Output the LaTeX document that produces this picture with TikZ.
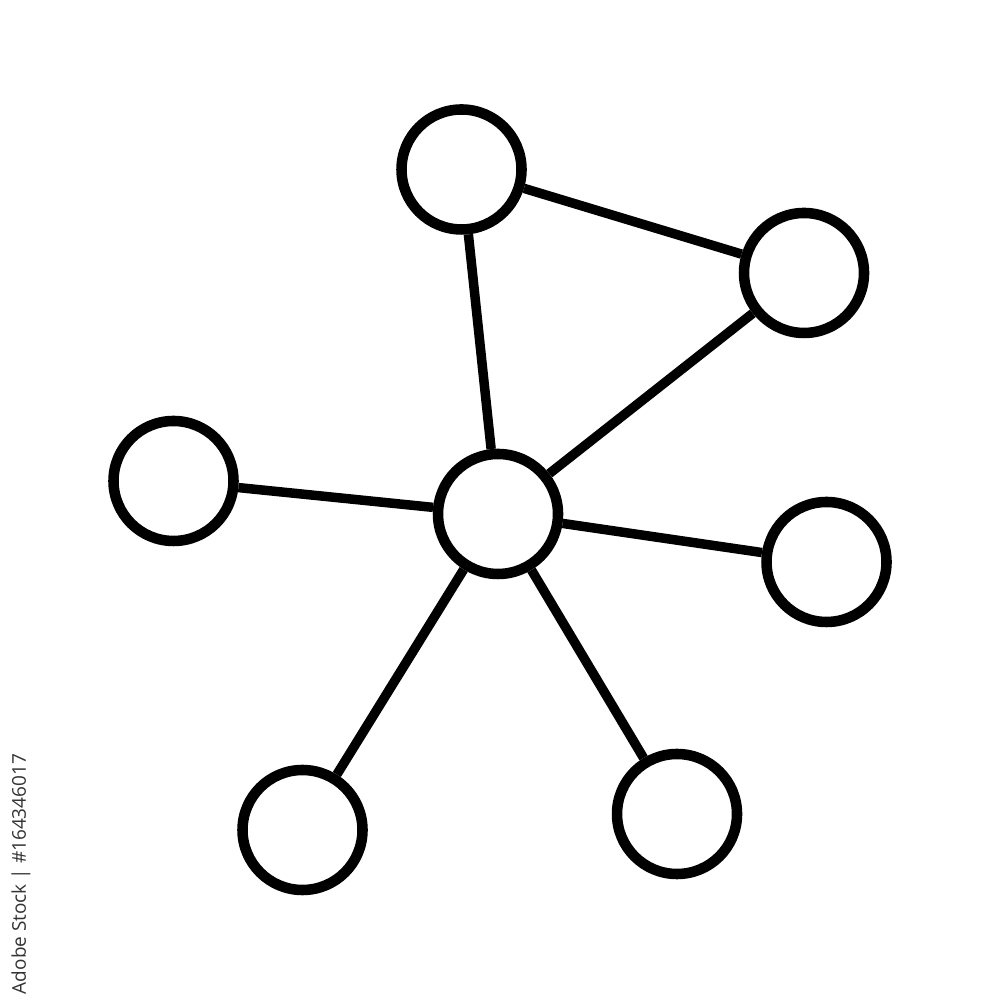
\documentclass[tikz,border=0pt]{standalone}
\usepackage{fontspec}
\setsansfont{Open Sans}
\usepackage{tikz}
\tikzstyle{vertex} = [circle, draw, fill=white, line width=3pt,
    inner sep=0pt, minimum size=1.2cm]
\tikzstyle{line} = [draw, line width=2.7pt]
\tikzstyle{stamp} = [rotate=90, text=black!80, font=\sffamily\fontsize{5.4}{6}\selectfont]
\begin{document}
\begin{tikzpicture}
    \useasboundingbox (0,0) rectangle (10,10);
    % Place nodes
    \node [vertex] (hub) at (4.98,4.86) {};
    \node [vertex] (upper) at (4.615,8.305) {};
    \node [vertex] (corner) at (8.04,7.27) {};
    \node [vertex] (west) at (1.735,5.19) {};
    \node [vertex] (east) at (8.265,4.38) {};
    \node [vertex] (lowwest) at (3.025,1.70) {};
    \node [vertex] (loweast) at (6.77,1.86) {};
    \node [stamp] (tag) at (0.21,1.26) {Adobe Stock | \#164346017};
    % Draw edges
    \path [line] (hub) -- (upper);
    \path [line] (upper) -- (corner);
    \path [line] (corner) -- (hub);
    \path [line] (west) -- (hub);
    \path [line] (hub) -- (east);
    \path [line] (hub) -- (lowwest);
    \path [line] (hub) -- (loweast);
\end{tikzpicture}
\end{document}
